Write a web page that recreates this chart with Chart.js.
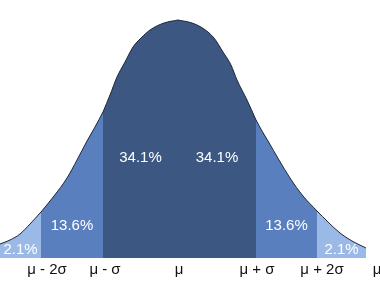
<!DOCTYPE html>
<html>
<head>
<meta charset="utf-8">
<script src="https://cdn.jsdelivr.net/npm/chart.js@4"></script>
<style>
  html, body { margin: 0; padding: 0; background: #fff; }
  #wrap { width: 380px; height: 282px; }
</style>
</head>
<body>
<div id="wrap"><canvas id="chart"></canvas></div>
<script>
// curve (x along the axis, y = height above baseline)
const curveX = [0, 10, 20, 30, 41, 54, 67, 77, 87, 95, 103, 110, 117, 125, 133, 141, 150, 164, 178,
                192, 204, 214, 223, 231, 237, 247, 256, 262, 268, 279, 290, 303, 317, 328, 340, 352, 366];
const curveY = [14, 18, 24, 34, 46, 62, 80, 98, 117, 131, 146, 163, 181, 196, 211, 220, 228, 235, 238,
                235, 229, 220, 206, 193, 178, 158, 138, 127, 117, 98, 80, 62, 47, 36, 25, 17, 10];

const bandEdges = [0, 41, 103, 178, 256, 317, 366];
const bandLabels = ["2.1%", "13.6%", "34.1%", "34.1%", "13.6%", "2.1%"];
const tickValues = [47, 105, 179, 257, 322, 377];
const tickLabels = ["\u03bc - 2\u03c3", "\u03bc - \u03c3", "\u03bc", "\u03bc + \u03c3", "\u03bc + 2\u03c3", "\u03bc"];

const bandColors = ["#9bb9e6", "#5a7fbf", "#3c5781", "#3c5781", "#5a7fbf", "#9bb9e6"];
const lineColor = "#1c2638";

const points = curveX.map((x, i) => ({ x: x, y: curveY[i] }));
function heightAt(x) {
    const p = points.find(pt => pt.x === x);
    return p ? p.y : 0;
}

const datasets = [];
for (let i = 0; i < bandEdges.length - 1; i++) {
    datasets.push({
        data: points.filter(p => p.x >= bandEdges[i] && p.x <= bandEdges[i + 1]),
        fill: "origin",
        backgroundColor: bandColors[i],
        borderColor: lineColor,
        borderWidth: 1,
        pointRadius: 0,
        cubicInterpolationMode: "monotone"
    });
}
// dividers between bands
for (let i = 1; i < bandEdges.length - 1; i++) {
    const x = bandEdges[i];
    datasets.push({
        data: [{ x: x, y: 0 }, { x: x, y: heightAt(x) }],
        fill: false,
        borderColor: lineColor,
        borderWidth: 1,
        pointRadius: 0
    });
}

const bandText = {
    id: "bandText",
    afterDatasetsDraw(chart) {
        const ctx = chart.ctx;
        const xs = chart.scales.x, ys = chart.scales.y;
        const rowY = [8, 32, 100, 100, 32, 8];
        ctx.save();
        ctx.fillStyle = "#ffffff";
        ctx.font = "15px 'Liberation Sans', Arial, sans-serif";
        ctx.textAlign = "center";
        ctx.textBaseline = "middle";
        for (let i = 0; i < bandLabels.length; i++) {
            let mid = (bandEdges[i] + bandEdges[i + 1]) / 2;
            ctx.fillText(bandLabels[i], xs.getPixelForValue(mid), ys.getPixelForValue(rowY[i]));
        }
        ctx.restore();
    }
};

new Chart(document.getElementById("chart"), {
    type: "line",
    data: { datasets: datasets },
    options: {
        responsive: true,
        maintainAspectRatio: false,
        animation: false,
        layout: { padding: 0 },
        plugins: { legend: { display: false }, tooltip: { enabled: false } },
        scales: {
            x: {
                type: "linear",
                min: 0,
                max: 380,
                grid: { display: false, drawTicks: false },
                border: { display: false },
                afterBuildTicks(scale) {
                    scale.ticks = tickValues.map(v => ({ value: v }));
                },
                afterFit(scale) {
                    scale.height = 24;
                    scale.paddingLeft = 0;
                    scale.paddingRight = 0;
                },
                ticks: {
                    autoSkip: false,
                    maxRotation: 0,
                    padding: 3,
                    color: "#111111",
                    font: { size: 15, family: "'Liberation Sans', Arial, sans-serif" },
                    callback: (v, i) => tickLabels[i]
                }
            },
            y: {
                display: false,
                min: 0,
                max: 258
            }
        }
    },
    plugins: [bandText]
});
</script>
</body>
</html>
